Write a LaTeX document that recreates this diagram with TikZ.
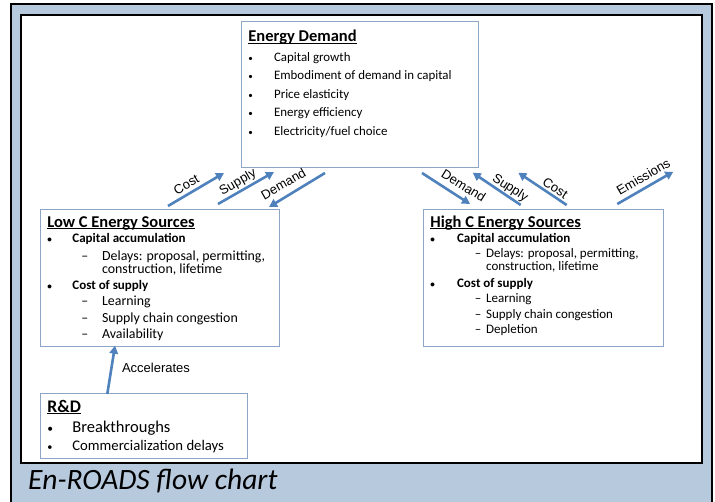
\documentclass[tikz,border=0pt]{standalone}
\usepackage{fontspec}
\usepackage{graphicx}
\setmainfont{Carlito}
\newfontfamily\lblfont{Liberation Sans}
\usetikzlibrary{arrows.meta}
\definecolor{framebg}{RGB}{183,201,221}
\definecolor{boxline}{RGB}{141,166,198}
\definecolor{flowblue}{RGB}{79,129,189}
\newcommand{\ttl}[1]{\setbox0\hbox{#1}\rlap{\rule[-2.2pt]{\wd0}{0.9pt}}\box0}
\newcommand{\dotmark}{\scalebox{0.7}{\textbullet}}
\newcommand{\bul}[2][25pt]{\makebox[#1][l]{\dotmark}#2}
\newcommand{\dsh}[3]{\hspace*{#1}\makebox[#2][l]{\textendash}#3}
\newcommand{\fs}[1]{\fontsize{#1}{\bs}\selectfont}
\begin{document}
\begin{tikzpicture}[x=1pt,y=-1pt,
  box/.style = {draw=boxline, fill=white, anchor=north west,
    inner xsep=7pt, inner ysep=0pt, line width=0.8pt},
  flow/.style = {draw=flowblue, line width=2.6pt,
    -{Triangle[length=8pt,width=8.5pt]}},
  lbl/.style = {font=\lblfont\fontsize{13}{13}\selectfont, inner sep=0pt}]
  \useasboundingbox (0,0) rectangle (715,502);
  \fill[white] (0,0) rectangle (715,502);
  \filldraw[fill=framebg, draw=black, line width=2.5pt] (11,4) rectangle (712,512);
  \filldraw[fill=white, draw=black, line width=2.5pt] (21,15) rectangle (702,463);
  \node[box] (demand) at (241,21) {\parbox[t][146pt][t]{223pt}{\def\bs{18.5pt}\raggedright
    \fs{16.5}\bfseries\rule{0pt}{20pt}\ttl{Energy Demand}\\[1.5pt]
    \fs{12.9}\mdseries\bul[25.7pt]{Capital growth}\\
    \bul[25.7pt]{Embodiment of demand in capital}\\
    \bul[25.7pt]{Price elasticity}\\
    \bul[25.7pt]{Energy efficiency}\\
    \bul[25.7pt]{Electricity/fuel choice}}};
  \node[box] (lowc) at (40,209) {\parbox[t][137pt][t]{225pt}{\def\bs{16.5pt}\raggedright
    \fs{16.5}\bfseries\rule{0pt}{17.7pt}\ttl{Low C Energy Sources}\\[-1pt]
    \fs{13}\bul{Capital accumulation}\\[1pt]
    \fs{13.9}\mdseries\dsh{34pt}{20.7pt}{Delays: proposal, permitting,}\\[-3pt]
    \hspace*{54.7pt}construction, lifetime\\[-1pt]
    \fs{13}\bfseries\bul{Cost of supply}\\
    \fs{13.9}\mdseries\dsh{34pt}{20.7pt}{Learning}\\
    \dsh{34pt}{20.7pt}{Supply chain congestion}\\
    \dsh{34pt}{20.7pt}{Availability}}};
  \node[box] (highc) at (423,209) {\parbox[t][137pt][t]{226pt}{\def\bs{15pt}\raggedright
    \fs{16.5}\bfseries\rule{0pt}{17.7pt}\ttl{High C Energy Sources}\\
    \fs{13}\bul[26.7pt]{Capital accumulation}\\
    \mdseries\dsh{44.5pt}{11.2pt}{Delays: proposal, permitting,}\\[-1.7pt]
    \hspace*{55.7pt}construction, lifetime\\[1.7pt]
    \bfseries\bul[26.7pt]{Cost of supply}\\
    \mdseries\dsh{44.5pt}{11.2pt}{Learning}\\[1.6pt]
    \dsh{44.5pt}{11.2pt}{Supply chain congestion}\\
    \dsh{44.5pt}{11.2pt}{Depletion}}};
  \node[box] (rnd) at (40,393) {\parbox[t][65pt][t]{193pt}{\def\bs{18.5pt}\raggedright
    \fs{17.7}\bfseries\rule{0pt}{18.7pt}\ttl{R\&D}\\[1.5pt]
    \fs{16.5}\mdseries\bul{Breakthroughs}\\
    \fs{14.7}\bul{Commercialization delays}}};
  \coordinate (lowCost) at (168,206);
  \coordinate (demCostL) at (224,173);
  \coordinate (lowSupply) at (218,204);
  \coordinate (demSupplyL) at (274,172);
  \coordinate (demDemandL) at (325,173);
  \coordinate (lowDemand) at (269,207);
  \coordinate (demDemandR) at (422,173);
  \coordinate (highDemand) at (470,204);
  \coordinate (highSupply) at (520.7,205);
  \coordinate (demSupplyR) at (472.7,172.7);
  \coordinate (highCost) at (566.7,205);
  \coordinate (demCostR) at (518.3,172.7);
  \coordinate (highEmis) at (617.3,204);
  \coordinate (emisEnd) at (673.3,171.7);
  \coordinate (rndTop) at (107.3,394);
  \coordinate (lowBottom) at (115,345.7);
  \draw[flow] (lowCost) -- (demCostL);
  \draw[flow] (lowSupply) -- (demSupplyL);
  \draw[flow] (demDemandL) -- (lowDemand);
  \draw[flow] (demDemandR) -- (highDemand);
  \draw[flow] (highSupply) -- (demSupplyR);
  \draw[flow] (highCost) -- (demCostR);
  \draw[flow] (highEmis) -- (emisEnd);
  \draw[flow] (rndTop) -- (lowBottom);
  \node[lbl, rotate=30] (costL) at (186.3,184.7) {Cost};
  \node[lbl, rotate=30] (supplyL) at (238,182.7) {Supply};
  \node[lbl, rotate=30] (demandL) at (283.3,184) {Demand};
  \node[lbl, rotate=-32] (demandR) at (463.7,185.7) {Demand};
  \node[lbl, rotate=-33] (supplyR) at (510,188.3) {Supply};
  \node[lbl, rotate=-33] (costR) at (555.3,188.3) {Cost};
  \node[lbl, rotate=30] (emis) at (643.3,176.7) {Emissions};
  \node[lbl] (accel) at (156,368) {Accelerates};
  \node[anchor=base west, inner sep=0pt, font=\fontsize{29.5}{29.5}\selectfont\itshape]
    (caption) at (28,489) {En-ROADS flow chart};
\end{tikzpicture}
\end{document}
